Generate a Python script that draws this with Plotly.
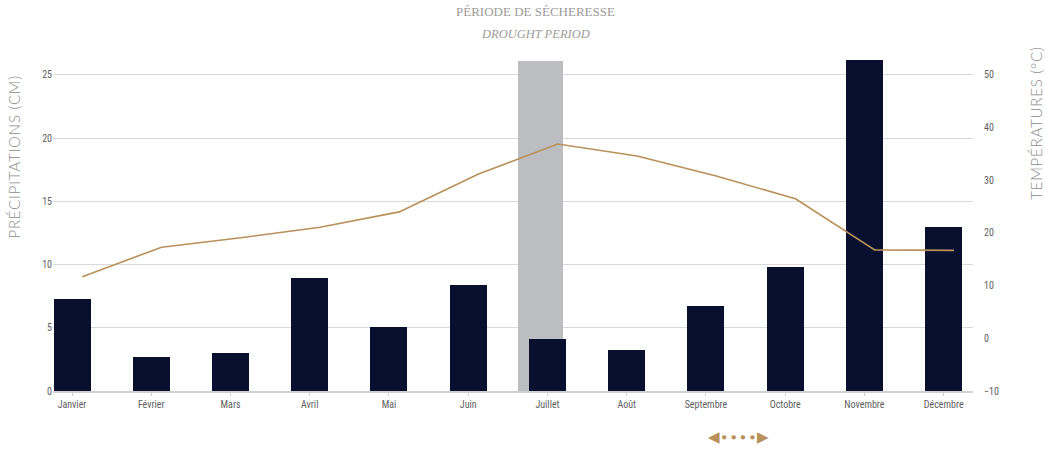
import plotly.graph_objects as go

months = ["Janvier", "Février", "Mars", "Avril", "Mai", "Juin", "Juillet",
          "Août", "Septembre", "Octobre", "Novembre", "Décembre"]
precip_cm = [7.3, 2.7, 3.0, 8.95, 5.05, 8.4, 4.1, 3.25, 6.75, 9.8, 26.2, 12.95]
temp_c = [11.7, 17.3, 19.1, 21.1, 24.0, 31.2, 36.9, 34.6, 30.8, 26.5, 16.8, 16.7]
drought_month = ["Juillet"]
drought_height = [26.1]

NAVY = "#09102f"
GOLD = "#b99059"
GREY_BAR = "#bcbdc0"
TXT = "#5e5e5e"

XR = [-0.24, 11.37]
shift = 0.13
Y1 = [0, 26.5]
Y2 = [-10, -10 + 2.4 * 26.5]

fig = go.Figure()
fig.add_trace(go.Bar(x=drought_month, y=drought_height, width=0.57, offset=-0.372,
                     marker=dict(color=GREY_BAR, line=dict(width=0)),
                     showlegend=False, hoverinfo="skip"))
fig.add_trace(go.Bar(x=months, y=precip_cm, width=0.467,
                     marker=dict(color=NAVY, line=dict(width=0)),
                     showlegend=False))
fig.add_trace(go.Scatter(x=months, y=temp_c, mode="lines", xaxis="x2", yaxis="y2",
                         line=dict(color=GOLD, width=1.6), showlegend=False))

tickfont = dict(family="Liberation Sans Narrow, Roboto Condensed, Roboto, sans-serif",
                size=10, color=TXT)

fig.update_layout(
    width=1045, height=449,
    margin=dict(l=53, r=72, t=56, b=58),
    paper_bgcolor="white", plot_bgcolor="white",
    barmode="overlay", bargap=0,
    xaxis=dict(type="category", categoryorder="array", categoryarray=months,
               range=XR, showgrid=False, showline=True, linecolor="#d0d0d0",
               linewidth=1.5, ticks="outside", ticklen=3, tickcolor="#d0d0d0",
               tickfont=tickfont, zeroline=False, fixedrange=True),
    xaxis2=dict(type="category", categoryorder="array", categoryarray=months,
                overlaying="x", range=[XR[0] - shift, XR[1] - shift],
                visible=False, fixedrange=True),
    yaxis=dict(range=Y1, tickvals=[0, 5, 10, 15, 20, 25], showgrid=True,
               gridcolor="#d9d9d9", gridwidth=1.3, zeroline=False, showline=False,
               tickfont=tickfont, ticks="", fixedrange=True),
    yaxis2=dict(range=Y2, overlaying="y", side="right",
                tickvals=[-10, 0, 10, 20, 30, 40, 50], showgrid=False,
                zeroline=False, showline=False, tickfont=tickfont, ticks="outside",
                ticklen=8, tickcolor="rgba(0,0,0,0)", fixedrange=True),
    font=dict(family="Lato, sans-serif", color=TXT),
)

fig.add_annotation(text="PÉRIODE DE SÉCHERESSE", xref="paper", yref="paper",
                   x=(535 - 53) / 920, y=(449 - 58 - 11) / 335, showarrow=False,
                   font=dict(family="Liberation Serif, serif", size=13, color="#9d9a98"),
                   yanchor="middle", xanchor="center")
fig.add_annotation(text="<i>DROUGHT PERIOD</i>", xref="paper", yref="paper",
                   x=(535 - 53) / 920, y=(449 - 58 - 34) / 335, showarrow=False,
                   font=dict(family="Liberation Serif, serif", size=12.5, color="#9d9a98"),
                   yanchor="middle", xanchor="center")
fig.add_annotation(text="PRÉCIPITATIONS (CM)", xref="paper", yref="paper",
                   x=(14 - 53) / 920, y=(449 - 58 - 157) / 335, showarrow=False,
                   textangle=-90,
                   font=dict(family="Lato, sans-serif", size=15, weight=300, color="#8c8c8c"),
                   xanchor="center", yanchor="middle")
fig.add_annotation(text="TEMPÉRATURES (°C)", xref="paper", yref="paper",
                   x=(1036 - 53) / 920, y=(449 - 58 - 123) / 335, showarrow=False,
                   textangle=-90,
                   font=dict(family="Lato, sans-serif", size=15, weight=300, color="#8c8c8c"),
                   xanchor="center", yanchor="middle")
fig.add_annotation(text="◀∙∙∙∙▶", xref="paper", yref="paper",
                   x=(738 - 53) / 920, y=(449 - 58 - 437) / 335, showarrow=False,
                   font=dict(family="DejaVu Sans, sans-serif", size=15, color=GOLD),
                   xanchor="center", yanchor="middle")

post = """
document.body.style.margin='0';
document.body.style.overflow='hidden';
document.querySelectorAll('.annotation-text').forEach(function(t){
  var s = t.textContent;
  if (s.indexOf('PRÉCIPITATIONS') === 0 || s.indexOf('TEMPÉRATURES') === 0) {
    t.style.letterSpacing = '0.8px';
  }
});
"""
fig.write_html("out.html", config={"displayModeBar": False}, post_script=post)
